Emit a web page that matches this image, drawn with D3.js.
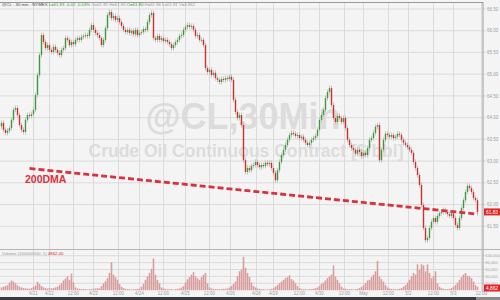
<!DOCTYPE html>
<html>
<head>
<meta charset="utf-8">
<script src="https://cdn.jsdelivr.net/npm/d3@7"></script>
<style>
  body { margin: 0; background: #f4f4f4; }
  svg { display: block; font-family: "Liberation Sans", Arial, sans-serif; }
</style>
</head>
<body>
<script>
let width = 500
let height = 300

// 30 min closes
let closes = [
  63.88, 63.72, 63.65, 63.70, 63.76, 63.95, 64.18, 64.22, 64.06, 63.83,
  63.72, 63.67, 63.95, 64.06, 64.04, 64.08, 64.18, 64.52, 64.98, 65.44,
  65.90, 65.74, 65.60, 65.67, 65.56, 65.51, 65.63, 65.56, 65.49, 65.44,
  65.56, 65.60, 65.83, 65.79, 65.67, 65.74, 65.69, 65.79, 65.83, 65.79,
  65.86, 65.88, 65.90, 65.88, 66.02, 66.13, 66.02, 65.95, 65.90, 65.83,
  65.67, 65.79, 66.06, 66.36, 66.43, 66.29, 66.34, 66.25, 66.29, 66.20,
  66.11, 66.02, 65.97, 66.02, 65.95, 66.00, 65.92, 66.02, 65.90, 65.95,
  65.97, 66.04, 66.02, 66.20, 66.36, 66.41, 65.83, 65.79, 65.88, 65.79,
  65.83, 65.76, 65.79, 65.74, 65.69, 65.60, 65.67, 65.74, 65.79, 65.88,
  65.90, 66.02, 66.09, 66.13, 66.09, 66.11, 66.02, 65.88, 65.90, 65.79,
  65.79, 65.67, 65.14, 65.05, 65.10, 64.98, 65.03, 64.91, 64.87, 64.82,
  64.89, 64.87, 64.91, 64.89, 64.94, 64.87, 64.41, 64.13, 63.99, 64.06,
  63.83, 63.02, 62.75, 62.84, 62.79, 62.89, 62.91, 62.98, 62.91, 62.86,
  62.91, 62.89, 62.96, 62.93, 62.96, 62.84, 62.73, 62.56, 62.79, 62.98,
  63.14, 63.26, 63.37, 63.49, 63.60, 63.65, 63.63, 63.58, 63.60, 63.53,
  63.56, 63.49, 63.42, 63.37, 63.42, 63.49, 63.53, 63.58, 63.72, 63.95,
  64.06, 64.18, 64.45, 64.59, 64.68, 64.29, 63.99, 63.90, 64.04, 63.99,
  63.90, 63.99, 63.76, 63.49, 63.37, 63.30, 63.26, 63.17, 63.26, 63.21,
  63.12, 63.19, 63.14, 63.30, 63.49, 63.53, 63.65, 63.79, 63.83, 63.02,
  63.26, 63.49, 63.63, 63.60, 63.56, 63.60, 63.53, 63.56, 63.63, 63.60,
  63.49, 63.42, 63.37, 63.32, 63.26, 63.19, 62.98, 62.84, 62.68, 62.45,
  61.99, 61.46, 61.18, 61.23, 61.46, 61.60, 61.69, 61.60, 61.74, 61.80,
  61.83, 61.87, 61.83, 61.78, 61.74, 61.80, 61.69, 61.53, 61.46, 61.69,
  61.92, 62.10, 62.29, 62.43, 62.38, 62.29, 62.15, 62.10, 61.83
]
let firstOpen = 63.80

// volume, thousands of contracts
let volumes = [
  8, 10, 12, 14, 22, 28, 25, 20, 14, 10,
  8, 6, 5, 5, 4, 6, 10, 14, 24, 18,
  12, 8, 6, 5, 6, 5, 6, 8, 10, 14,
  20, 28, 34, 40, 30, 48, 22, 8, 5, 4,
  3, 3, 3, 2, 3, 3, 4, 5, 6, 5,
  12, 20, 26, 35, 50, 81, 45, 38, 30, 18,
  10, 6, 4, 3, 3, 2, 3, 3, 4, 4,
  10, 18, 30, 40, 50, 62, 92, 45, 30, 20,
  8, 5, 4, 3, 3, 3, 2, 3, 4, 5,
  8, 12, 22, 32, 38, 45, 52, 40, 35, 30,
  38, 45, 50, 20, 8, 5, 4, 3, 3, 3,
  3, 4, 4, 5, 8, 12, 18, 25, 40, 55,
  60, 97, 65, 50, 38, 22, 12, 8, 5, 4,
  3, 3, 2, 2, 3, 4, 6, 10, 15, 20,
  25, 30, 35, 38, 43, 32, 28, 20, 12, 6,
  4, 3, 3, 2, 3, 3, 4, 6, 8, 12,
  18, 22, 28, 35, 40, 45, 72, 40, 30, 20,
  10, 5, 4, 3, 3, 3, 2, 3, 4, 6,
  10, 14, 20, 28, 30, 38, 45, 55, 85, 40,
  32, 25, 15, 8, 5, 4, 3, 3, 3, 4,
  6, 10, 15, 22, 30, 40, 50, 45, 75, 60,
  75, 72, 55, 75, 50, 35, 40, 55, 20, 10,
  6, 4, 3, 3, 4, 6, 10, 15, 22, 30,
  38, 45, 50, 42, 40, 35, 25, 15, 10
]

// 200 day moving average, two ends of the line (bar index, price)
let dmaIndex = [14, 238]
let dmaValue = [62.83, 61.78]

let priceTicks = [61.5, 62, 62.5, 63, 63.5, 64, 64.5, 65, 65.5, 66, 66.5]
let volumeTicks = [20, 40, 60, 80, 100]

let timeTickIndex = [16, 24, 36, 46, 58.5, 69, 81, 92, 104, 114.5, 127.5, 136, 149, 159, 171.5, 181, 193.5, 203.5, 216, 226, 240]
let timeTickLabels = ["4/21", "4/22", "12:00", "4/23", "12:00", "4/24", "12:00", "4/25", "12:00", "4/26", "4/28", "4/29", "12:00", "4/30", "12:00", "May", "12:00", "5/2", "12:00", "5/3", "12:00"]

let lastPrice = 61.83
let lastVolume = 4862

let plotRight = 483

let candles = closes.map((c, i) => ({
  i: i,
  open: i === 0 ? firstOpen : closes[i - 1],
  close: c
}))

let x = d3.scaleLinear().domain([0, 238]).range([1.5, 477.5])
let y = d3.scaleLinear().domain([61, 66.5]).range([248, 9])
let yv = d3.scaleLinear().domain([0, 100]).range([290.2, 255.7])

let svg = d3.select("body")
  .append("svg")
  .attr("width", width)
  .attr("height", height)
  .style("background", "#f4f4f4")

// grid
let grid = svg.append("g")
grid.selectAll(".vg")
  .data(timeTickIndex)
  .enter().append("line")
  .attr("x1", d => x(d)).attr("x2", d => x(d))
  .attr("y1", 3).attr("y2", 291)
  .attr("stroke", "#d6d6d6")
  .attr("stroke-width", 0.8)

grid.selectAll(".hg")
  .data(priceTicks)
  .enter().append("line")
  .attr("x1", 0).attr("x2", plotRight + 3)
  .attr("y1", d => y(d)).attr("y2", d => y(d))
  .attr("stroke", "#d6d6d6")
  .attr("stroke-width", 0.8)

grid.selectAll(".vgv")
  .data(volumeTicks)
  .enter().append("line")
  .attr("x1", 0).attr("x2", plotRight + 3)
  .attr("y1", d => yv(d)).attr("y2", d => yv(d))
  .attr("stroke", "#d6d6d6")
  .attr("stroke-width", 0.8)

// watermark
svg.append("text")
  .attr("x", 243).attr("y", 129)
  .attr("text-anchor", "middle")
  .attr("font-size", 36)
  .attr("font-weight", "bold")
  .attr("fill", "#dcdcdc")
  .text("@CL,30Min")

svg.append("text")
  .attr("x", 246).attr("y", 157)
  .attr("text-anchor", "middle")
  .attr("font-size", 17.5)
  .attr("font-weight", "bold")
  .attr("fill", "#dcdcdc")
  .text("Crude Oil Continuous Contract [$/bbl]")

// frame
svg.append("line")
  .attr("x1", 0).attr("x2", plotRight).attr("y1", 2.5).attr("y2", 2.5)
  .attr("stroke", "#9a9a9a").attr("stroke-width", 1)
svg.append("line")
  .attr("x1", plotRight).attr("x2", plotRight).attr("y1", 2).attr("y2", 292)
  .attr("stroke", "#9a9a9a").attr("stroke-width", 1)
svg.append("line")
  .attr("x1", 0).attr("x2", width).attr("y1", 249.5).attr("y2", 249.5)
  .attr("stroke", "#b5b5b5").attr("stroke-width", 1)

// candles
let bw = 1.4
let cg = svg.append("g")
cg.selectAll(".wick")
  .data(candles)
  .enter().append("line")
  .attr("x1", d => x(d.i)).attr("x2", d => x(d.i))
  .attr("y1", d => y(Math.max(d.open, d.close)) - 2.5)
  .attr("y2", d => y(Math.min(d.open, d.close)) + 2.5)
  .attr("stroke", "#bdbdbd")
  .attr("stroke-width", 0.9)

cg.selectAll(".body")
  .data(candles)
  .enter().append("rect")
  .attr("x", d => x(d.i) - bw / 2)
  .attr("width", bw)
  .attr("y", d => y(Math.max(d.open, d.close)))
  .attr("height", d => Math.max(1, Math.abs(y(d.open) - y(d.close))))
  .attr("fill", d => d.close >= d.open ? "#3a9b3a" : "#cf2f2a")

// 200DMA
let dma = dmaIndex.map((d, k) => ({ i: d, v: dmaValue[k] }))
svg.append("path")
  .datum(dma)
  .attr("d", d3.line().x(d => x(d.i)).y(d => y(d.v)))
  .attr("fill", "none")
  .attr("stroke", "#d7323f")
  .attr("stroke-width", 2.8)
  .attr("stroke-dasharray", "6,3")

svg.append("text")
  .attr("x", 25).attr("y", 182.5)
  .attr("font-size", 10.5)
  .attr("font-weight", "bold")
  .attr("fill", "#d7323f")
  .text("200DMA")

// volume
svg.append("g").selectAll("rect")
  .data(volumes)
  .enter().append("rect")
  .attr("x", (d, i) => x(i) - 0.8)
  .attr("width", 1.6)
  .attr("y", d => yv(d))
  .attr("height", d => yv(0) - yv(d))
  .attr("fill", "#d99c9c")

// right axis
let fmt = d3.format(".2f")
let ra = svg.append("g").attr("font-size", 4.5).attr("fill", "#a0a0a0")
ra.selectAll(".pl")
  .data(priceTicks)
  .enter().append("text")
  .attr("x", plotRight + 4).attr("y", d => y(d) + 1.6)
  .text(d => fmt(d))

ra.selectAll(".vl")
  .data(volumeTicks)
  .enter().append("text")
  .attr("x", plotRight + 2.5).attr("y", d => yv(d) + 1.5)
  .attr("font-size", 3.9)
  .text(d => d3.format(",")(d * 1000))

svg.append("rect")
  .attr("x", plotRight + 1).attr("y", y(lastPrice) - 3.5)
  .attr("width", 17).attr("height", 7)
  .attr("fill", "#e0262b")
svg.append("text")
  .attr("x", plotRight + 3).attr("y", y(lastPrice) + 1.7)
  .attr("font-size", 4.8).attr("fill", "#fff")
  .text(fmt(lastPrice))

svg.append("rect")
  .attr("x", plotRight + 1).attr("y", yv(lastVolume / 1000) - 4)
  .attr("width", 17).attr("height", 7)
  .attr("fill", "#e0262b")
svg.append("text")
  .attr("x", plotRight + 3).attr("y", yv(lastVolume / 1000) + 1.2)
  .attr("font-size", 4.8).attr("fill", "#fff")
  .text(d3.format(",")(lastVolume))

// time axis
svg.append("g").selectAll("text")
  .data(timeTickIndex)
  .enter().append("text")
  .attr("x", d => x(d)).attr("y", 295)
  .attr("text-anchor", "middle")
  .attr("font-size", 4.5)
  .attr("fill", "#a0a0a0")
  .text((d, k) => timeTickLabels[k])

svg.append("rect")
  .attr("x", 0).attr("y", 297).attr("width", width).attr("height", 3)
  .attr("fill", "#3a3a3a")
svg.append("rect")
  .attr("x", 476).attr("y", 297).attr("width", 24).attr("height", 3)
  .attr("fill", "#8a8a8a")

// header
let hd = svg.append("text").attr("x", 2).attr("y", 5.5).attr("font-size", 4.3)
hd.append("tspan").attr("fill", "#444").text("@CL - 30 min - NYMEX  ")
hd.append("tspan").attr("fill", "#2e9b2e").text("L=61.83  -0.02  -0.03%  ")
hd.append("tspan").attr("fill", "#999").text("O=61.85  H=61.86  ")
hd.append("tspan").attr("fill", "#2e9b2e").text("O=61.80  ")
hd.append("tspan").attr("fill", "#999").text("H=61.86  L=61.81  V=4,862")

let vl = svg.append("text").attr("x", 2).attr("y", 255).attr("font-size", 4.3)
vl.append("tspan").attr("fill", "#999").text("Volume (100000000, 1)  ")
vl.append("tspan").attr("fill", "#e0262b").text("4862.00")
</script>
</body>
</html>
